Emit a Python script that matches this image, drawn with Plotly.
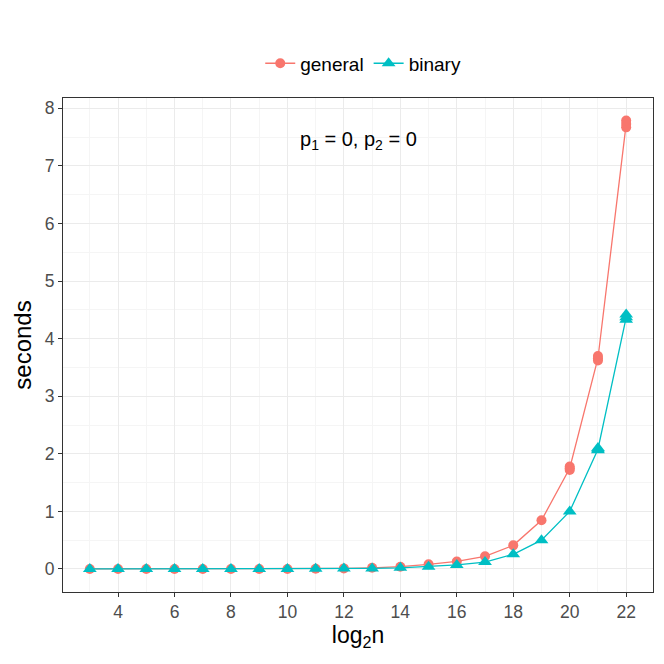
import plotly.graph_objects as go

log2n = list(range(3, 23))
general = [0.0, 0.0, 0.0, 0.0, 0.0, 0.0, 0.0, 0.0, 0.005, 0.01, 0.02, 0.04, 0.08, 0.13, 0.22, 0.41, 0.845, 1.75, 3.66, 7.73]
binary = [0.0, 0.0, 0.0, 0.0, 0.0, 0.0, 0.0, 0.0, 0.003, 0.006, 0.01, 0.02, 0.04, 0.07, 0.12, 0.255, 0.5, 1.0, 2.08, 4.37]
# repeated runs visible as spread at the largest sizes
general_rep_x = [20, 20, 21, 21, 22, 22]
general_rep_y = [1.72, 1.78, 3.62, 3.70, 7.67, 7.79]
binary_rep_x = [21, 21, 22, 22]
binary_rep_y = [2.06, 2.10, 4.33, 4.42]

x_ticks = [4, 6, 8, 10, 12, 14, 16, 18, 20, 22]
y_ticks = [0, 1, 2, 3, 4, 5, 6, 7, 8]

RED = "#F8766D"
CYAN = "#00BFC4"

fig = go.Figure()
fig.add_trace(go.Scatter(x=log2n, y=general, mode="lines+markers", name="general",
                         line=dict(color=RED, width=1.3),
                         marker=dict(symbol="circle", size=10, color=RED)))
fig.add_trace(go.Scatter(x=log2n, y=binary, mode="lines+markers", name="binary",
                         line=dict(color=CYAN, width=1.3),
                         marker=dict(symbol="triangle-up", size=12, color=CYAN)))
fig.add_trace(go.Scatter(x=general_rep_x, y=general_rep_y, mode="markers", showlegend=False,
                         marker=dict(symbol="circle", size=10, color=RED)))
fig.add_trace(go.Scatter(x=binary_rep_x, y=binary_rep_y, mode="markers", showlegend=False,
                         marker=dict(symbol="triangle-up", size=12, color=CYAN)))

fig.add_annotation(x=12.5, y=7.45, text="p<sub>1</sub> = 0, p<sub>2</sub> = 0", showarrow=False,
                   font=dict(size=20, color="black"), xref="x", yref="y")

axis_common = dict(showline=True, linecolor="#333333", linewidth=1, mirror=True,
                   ticks="outside", ticklen=4, tickcolor="#333333", tickwidth=1,
                   gridcolor="#EBEBEB", gridwidth=1, zeroline=False, automargin=False,
                   tickfont=dict(size=17.5, color="#4D4D4D"),
                   minor=dict(showgrid=True, gridcolor="#F5F5F5", gridwidth=1, ticks=""))

fig.update_xaxes(range=[2.05, 22.95], tickvals=x_ticks,
                 title=dict(text="log<sub>2</sub>n", font=dict(size=23, color="black"), standoff=4),
                 minor_dtick=1, minor_tick0=3, **axis_common)
fig.update_yaxes(range=[-0.4, 8.18], tickvals=y_ticks,
                 title=dict(text="seconds", font=dict(size=24, color="black"), standoff=6),
                 minor_dtick=0.5, minor_tick0=0.5, **axis_common)

fig.update_layout(
    width=664, height=664,
    margin=dict(l=55, r=19, t=90, b=80, autoexpand=False),
    paper_bgcolor="white", plot_bgcolor="white",
    font=dict(family="Liberation Sans, Arial, sans-serif"),
    legend=dict(orientation="h", x=0.535, xanchor="center", xref="container",
                y=0.9166, yanchor="middle", yref="container",
                font=dict(size=19, color="black"), itemwidth=30, tracegroupgap=0),
)

fig.write_html("out.html")
